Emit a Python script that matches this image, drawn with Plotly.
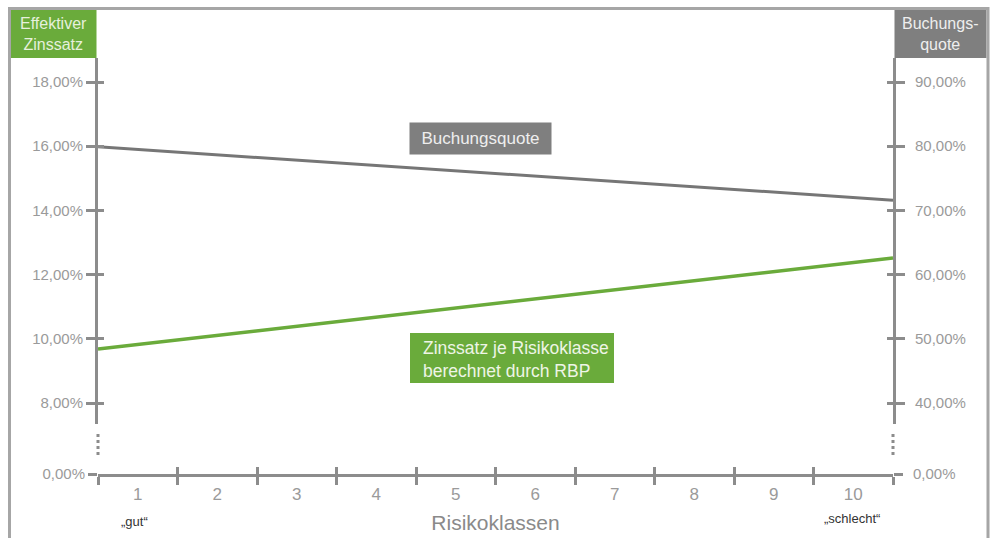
import plotly.graph_objects as go

# ---- data ----
classes = [1, 2, 3, 4, 5, 6, 7, 8, 9, 10]
class_labels = ["1", "2", "3", "4", "5", "6", "7", "8", "9", "10"]
zins_values = [9.68, 12.52]        # Effektiver Zinssatz (%), start/end of class range
quote_values = [79.9, 71.6]        # Buchungsquote (%), start/end of class range
left_ticks = [8, 10, 12, 14, 16, 18]
left_ticktext = ["8,00%", "10,00%", "12,00%", "14,00%", "16,00%", "18,00%"]
right_ticks = [40, 50, 60, 70, 80, 90]
right_ticktext = ["40,00%", "50,00%", "60,00%", "70,00%", "80,00%", "90,00%"]

FONT = "Liberation Sans, Arial, sans-serif"
AX = "#8c8c8c"
LBL = "#9a9a9a"
GREEN = "#6aab3b"
GRAY = "#7f7f7f"

W, H = 998, 538
L, R = 98, 893
T, B = 58, 474
def px(x): return (x - L) / (R - L)
def py(y): return (B - y) / (B - T)

x_edges = [classes[0] - 0.5, classes[-1] + 0.5]
boundaries = [c - 0.5 for c in classes] + [classes[-1] + 0.5]

fig = go.Figure()
fig.add_trace(go.Scatter(x=x_edges, y=quote_values, xaxis="x", yaxis="y2", mode="lines",
                         line=dict(color="#767676", width=3), hoverinfo="skip", showlegend=False))
fig.add_trace(go.Scatter(x=x_edges, y=zins_values, xaxis="x", yaxis="y", mode="lines",
                         line=dict(color=GREEN, width=3.5), hoverinfo="skip", showlegend=False))

top_bottom = py(424)
ymin = 18 - (424 - 82) / 32.1
ymax = 18 + (82 - 58) / 32.1

common_y = dict(showgrid=False, zeroline=False, linecolor=AX, linewidth=3, tickcolor=AX,
                tickwidth=3, tickfont=dict(family=FONT, size=15, color=LBL), fixedrange=True,
                automargin=False)

fig.update_layout(
    width=W, height=H,
    margin=dict(l=L, r=W - R, t=T, b=H - B),
    paper_bgcolor="white", plot_bgcolor="white",
    showlegend=False,
    xaxis=dict(range=x_edges, tickvals=classes, ticktext=class_labels, ticks="",
               showline=True, linecolor=AX, linewidth=3, showgrid=False, zeroline=False,
               anchor="y3", tickfont=dict(family=FONT, size=17, color=LBL), ticklabelstandoff=3,
               automargin=False,
               minor=dict(tickvals=boundaries, ticks="outside", ticklen=8, tickwidth=3, tickcolor=AX),
               title=dict(text="Risikoklassen", font=dict(family=FONT, size=21, color="#8a8a8a"), standoff=12)),
    xaxis2=dict(range=x_edges, overlaying="x", anchor="y3", tickvals=boundaries, ticks="inside",
                ticklen=7, tickwidth=3, tickcolor=AX, showticklabels=False, showgrid=False,
                zeroline=False, showline=False, automargin=False),
    yaxis=dict(domain=[top_bottom, 1], range=[ymin, ymax], tickvals=left_ticks, ticktext=left_ticktext,
               ticks="outside", ticklen=9, showline=True, anchor="x", **common_y),
    yaxis5=dict(domain=[top_bottom, 1], range=[ymin, ymax], tickvals=left_ticks, overlaying="y",
                ticks="inside", ticklen=6, showticklabels=False, showline=False, anchor="x", **common_y),
    yaxis2=dict(range=[ymin * 5, ymax * 5], tickvals=right_ticks, ticktext=right_ticktext,
                overlaying="y", side="right", anchor="x", ticks="outside", ticklen=9,
                showline=True, ticklabelstandoff=7, **common_y),
    yaxis6=dict(range=[ymin * 5, ymax * 5], tickvals=right_ticks, overlaying="y", side="right",
                anchor="x", ticks="inside", ticklen=6, showticklabels=False, showline=False, **common_y),
    yaxis3=dict(domain=[0, 0.02], range=[0, 1], tickvals=[0], ticktext=["0,00%"], ticks="outside",
                ticklen=9, showline=False, anchor="x", **common_y),
    yaxis4=dict(domain=[0, 0.02], range=[0, 1], tickvals=[0], ticktext=["0,00%"], ticks="outside",
                ticklen=9, showline=False, side="right", anchor="x", overlaying="y3",
                ticklabelstandoff=7, **common_y),
)

# invisible traces so overlay axes are drawn
for xa, ya in [("x2", "y3"), ("x", "y5"), ("x", "y6"), ("x", "y4")]:
    fig.add_trace(go.Scatter(x=[None], y=[None], xaxis=xa, yaxis=ya, showlegend=False, hoverinfo="skip"))

shapes = []
# frame around chart
shapes.append(dict(type="path", xref="paper", yref="paper",
                   path=f"M {px(9.5)},{py(560)} L {px(9.5)},{py(8.5)} L {px(988)},{py(8.5)} L {px(988)},{py(560)}",
                   line=dict(color="#a6a6a6", width=3)))
# header boxes
shapes.append(dict(type="rect", xref="paper", yref="paper", x0=px(11), x1=px(96.5), y0=py(58), y1=py(10),
                   fillcolor=GREEN, line=dict(width=0), layer="below"))
shapes.append(dict(type="rect", xref="paper", yref="paper", x0=px(894.5), x1=px(986.5), y0=py(58), y1=py(10),
                   fillcolor=GRAY, line=dict(width=0), layer="below"))
# label box behind the green annotation
shapes.append(dict(type="rect", xref="paper", yref="paper", x0=px(410), x1=px(614), y0=py(383), y1=py(333),
                   fillcolor=GREEN, line=dict(width=0), layer="above"))
# axis break dots
for xx in (0, 1):
    shapes.append(dict(type="line", xref="paper", yref="paper", x0=xx, x1=xx, y0=py(434), y1=py(458),
                       line=dict(color=AX, width=3, dash="dot")))
fig.update_layout(shapes=shapes)

ann = []
ann.append(dict(xref="paper", yref="paper", x=px(53.5), y=py(34), text="Effektiver<br>Zinssatz",
                showarrow=False, font=dict(family=FONT, size=16, color="#e6f0dc"), xanchor="center", yanchor="middle"))
ann.append(dict(xref="paper", yref="paper", x=px(940.5), y=py(34), text="Buchungs-<br>quote",
                showarrow=False, font=dict(family=FONT, size=16, color="#eeeeee"), xanchor="center", yanchor="middle"))
ann.append(dict(xref="paper", yref="paper", x=px(480.5), y=py(138.5), text="Buchungsquote",
                showarrow=False, font=dict(family=FONT, size=17, color="#eeeeee"), bgcolor=GRAY,
                borderpad=5, width=131, height=21, xanchor="center", yanchor="middle"))
ann.append(dict(xref="paper", yref="paper", x=px(421), y=py(359), text="Zinssatz je Risikoklasse<br>berechnet durch RBP",
                showarrow=False, font=dict(family=FONT, size=17.5, color="#eef5e6"),
                xanchor="left", yanchor="middle", align="left"))
ann.append(dict(xref="paper", yref="paper", x=px(134), y=py(521), text="„gut“",
                showarrow=False, font=dict(family=FONT, size=13, color="#333333"), xanchor="center", yanchor="middle"))
ann.append(dict(xref="paper", yref="paper", x=px(852), y=py(518), text="„schlecht“",
                showarrow=False, font=dict(family=FONT, size=13, color="#333333"), xanchor="center", yanchor="middle"))
fig.update_layout(annotations=ann)

fig.write_html("out.html")
